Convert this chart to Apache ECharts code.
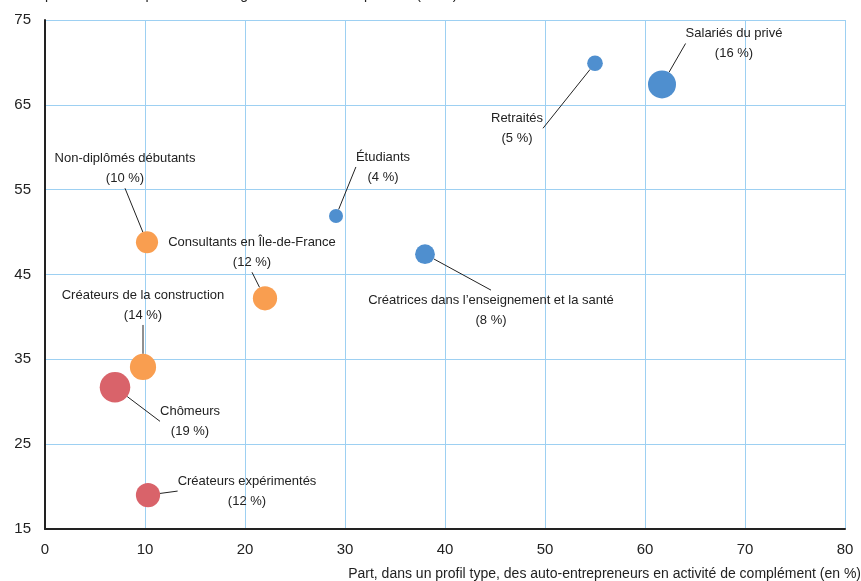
<!DOCTYPE html>
<html>
<head>
<meta charset="utf-8">
<script src="https://cdn.jsdelivr.net/npm/echarts@6/dist/echarts.min.js"></script>
<style>html,body{margin:0;padding:0;background:#fff}#c{width:861px;height:581px}</style>
</head>
<body>
<div id="c"></div>
<script>
// Data
const names = ["Salariés du privé", "Retraités", "Étudiants", "Créatrices dans l’enseignement et la santé",
  "Non-diplômés débutants", "Consultants en Île-de-France", "Créateurs de la construction", "Chômeurs", "Créateurs expérimentés"];
const xValues = [61.7, 55.0, 29.1, 38.0, 10.2, 22.0, 9.8, 7.0, 10.3];
const yValues = [67.4, 69.9, 51.9, 47.4, 48.8, 42.2, 34.1, 31.7, 19.0];
const shares = [16, 5, 4, 8, 10, 12, 14, 19, 12];
const groups = ["blue", "blue", "blue", "blue", "orange", "orange", "orange", "red", "red"];
const xTicks = [0, 10, 20, 30, 40, 50, 60, 70, 80];
const yTicks = [15, 25, 35, 45, 55, 65, 75];

// Style (label offsets in px)
const colors = { blue: "#4f8fcf", orange: "#f99e50", red: "#d9636a" };
const labelDx = [72, -78, 47, 66, -22, -13, 0, 75, 99];
const labelDy = [-41, 65, -49, 56, -74, -46, -62, 34, -4];

const data = names.map((n, i) => ({
  name: n,
  value: [xValues[i], yValues[i], shares[i]],
  symbolSize: 7 * Math.sqrt(shares[i]),
  itemStyle: { color: colors[groups[i]], opacity: 1 }
}));

const chart = echarts.init(document.getElementById('c'));
const font = "'Liberation Sans', Arial, Helvetica, sans-serif";
const gridColor = '#9dd0f2';
chart.setOption({
  animation: false,
  grid: { left: 45, right: 16, top: 20, bottom: 52, containLabel: false, outerBoundsMode: 'none' },
  xAxis: {
    type: 'value', min: 0, max: 80, interval: 10,
    name: 'Part, dans un profil type, des auto-entrepreneurs en activité de complément (en %)',
    nameLocation: 'end', nameGap: 16,
    nameTextStyle: { align: 'right', verticalAlign: 'top', padding: [38, 0, 0, 0], fontSize: 14, color: '#222', fontFamily: font },
    axisLine: { show: true, onZero: false, lineStyle: { color: '#222', width: 2 } },
    axisTick: { show: false },
    axisLabel: { fontSize: 15, color: '#222', margin: 13, fontFamily: font,
      formatter: v => xTicks.includes(v) ? String(v) : '' },
    splitLine: { show: true, lineStyle: { color: gridColor, width: 1 } }
  },
  yAxis: {
    type: 'value', min: 15, max: 75, interval: 10,
    name: 'pas créé d’entreprise sans le régime de l’auto-entrepreneur (en %)',
    nameLocation: 'end', nameGap: 18,
    nameTextStyle: { align: 'left', fontSize: 14, color: '#222', fontFamily: font },
    axisLine: { show: true, onZero: false, lineStyle: { color: '#222', width: 2 } },
    axisTick: { show: false },
    axisLabel: { fontSize: 15, color: '#222', margin: 14, fontFamily: font,
      formatter: v => yTicks.includes(v) ? String(v) : '' },
    splitLine: { show: true, lineStyle: { color: gridColor, width: 1 } }
  },
  series: [{
    type: 'scatter',
    data: data,
    itemStyle: { opacity: 1 },
    label: {
      show: true, position: 'inside', align: 'center', verticalAlign: 'middle',
      formatter: p => p.name + '\n(' + p.value[2] + ' %)',
      fontSize: 13, lineHeight: 20, color: '#222', fontFamily: font
    },
    labelLine: { show: true, lineStyle: { color: '#222', width: 1, opacity: 1 } },
    labelLayout: p => ({ dx: labelDx[p.dataIndex], dy: labelDy[p.dataIndex] }),
    emphasis: { disabled: true }
  }]
});
</script>
</body>
</html>
